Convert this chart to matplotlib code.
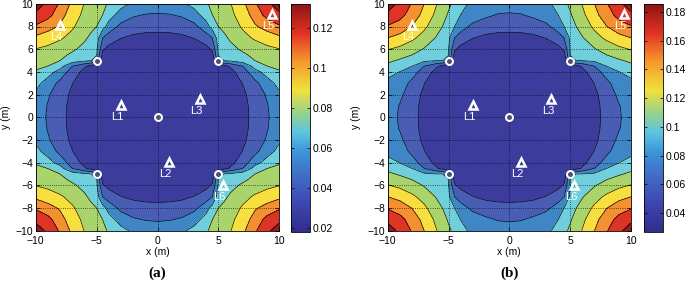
import numpy as np
import matplotlib
matplotlib.use('Agg')
import matplotlib.pyplot as plt
from matplotlib.colors import LinearSegmentedColormap, Normalize
from matplotlib.cm import ScalarMappable
from matplotlib.ticker import FuncFormatter

plt.rcParams['font.family'] = ['Liberation Sans', 'DejaVu Sans']

# |x| and |y| positions (m) where the band index was read, upper-left quadrant
grid_pos = [0, 1, 2, 3, 4, 4.5, 5, 5.5, 6, 7, 8, 9, 10]

# band index (0 = darkest band ... 8 = corner band)
# rows: y = grid_pos, cols: |x| = grid_pos  (x <= 0, y >= 0)
band_index_a = np.array([
    [0.08, 0.08, 0.08, 0.08, 0.08, 0.08, 0.08, 0.08, 0.12, 0.71, 1.29, 1.88, 2.57],
    [0.08, 0.08, 0.08, 0.08, 0.08, 0.08, 0.08, 0.08, 0.12, 0.73, 1.33, 1.94, 2.64],
    [0.08, 0.08, 0.08, 0.08, 0.08, 0.08, 0.08, 0.08, 0.16, 0.81, 1.45, 2.11, 2.85],
    [0.08, 0.08, 0.08, 0.08, 0.08, 0.08, 0.08, 0.08, 0.35, 1.03, 1.72, 2.60, 3.29],
    [0.08, 0.08, 0.08, 0.08, 0.08, 0.08, 0.08, 0.35, 0.73, 1.50, 2.64, 3.38, 3.90],
    [0.08, 0.08, 0.08, 0.08, 0.08, 0.30, 0.26, 0.70, 1.13, 2.00, 3.38, 3.99, 4.21],
    [0.08, 0.08, 0.08, 0.08, 0.08, 0.26, 2.40, 3.10, 3.20, 3.50, 4.00, 4.28, 4.46],
    [0.08, 0.08, 0.08, 0.08, 0.35, 0.70, 3.10, 3.38, 3.42, 3.86, 4.20, 4.50, 4.72],
    [0.12, 0.12, 0.16, 0.35, 0.73, 1.13, 3.20, 3.42, 3.77, 4.13, 4.50, 4.78, 4.97],
    [0.71, 0.73, 0.81, 1.03, 1.50, 2.00, 3.50, 3.86, 4.13, 4.70, 5.13, 5.45, 5.78],
    [1.29, 1.33, 1.45, 1.72, 2.64, 3.38, 4.00, 4.20, 4.50, 5.13, 5.88, 6.40, 6.88],
    [1.88, 1.94, 2.11, 2.60, 3.38, 3.99, 4.28, 4.50, 4.78, 5.45, 6.40, 7.31, 7.75],
    [2.57, 2.64, 2.85, 3.29, 3.90, 4.21, 4.46, 4.72, 4.97, 5.78, 6.88, 7.75, 8.58],
])

band_index_b = np.array([
    [0.08, 0.08, 0.08, 0.08, 0.08, 0.08, 0.08, 0.08, 0.12, 0.71, 1.29, 1.88, 2.45],
    [0.08, 0.08, 0.08, 0.08, 0.08, 0.08, 0.08, 0.08, 0.12, 0.73, 1.33, 1.94, 2.50],
    [0.08, 0.08, 0.08, 0.08, 0.08, 0.08, 0.08, 0.08, 0.16, 0.81, 1.45, 2.20, 2.60],
    [0.08, 0.08, 0.08, 0.08, 0.08, 0.08, 0.08, 0.08, 0.35, 1.03, 1.72, 2.59, 2.71],
    [0.08, 0.08, 0.08, 0.08, 0.08, 0.08, 0.08, 0.35, 0.73, 1.50, 2.48, 2.98, 3.36],
    [0.08, 0.08, 0.08, 0.08, 0.08, 0.30, 0.26, 0.70, 1.13, 2.00, 3.00, 3.42, 3.79],
    [0.08, 0.08, 0.08, 0.08, 0.08, 0.26, 2.40, 3.05, 3.05, 3.19, 3.50, 3.89, 4.17],
    [0.08, 0.08, 0.08, 0.08, 0.35, 0.70, 3.05, 3.25, 3.27, 3.56, 4.00, 4.33, 4.61],
    [0.12, 0.12, 0.16, 0.35, 0.73, 1.13, 3.05, 3.27, 3.67, 3.93, 4.40, 4.77, 5.05],
    [0.71, 0.73, 0.81, 1.03, 1.50, 2.00, 3.19, 3.56, 3.93, 4.63, 5.20, 5.69, 6.00],
    [1.29, 1.33, 1.45, 1.72, 2.48, 3.00, 3.50, 4.00, 4.40, 5.20, 5.98, 6.55, 6.93],
    [1.88, 1.94, 2.20, 2.59, 2.98, 3.42, 3.89, 4.33, 4.77, 5.69, 6.55, 7.31, 7.74],
    [2.45, 2.50, 2.60, 2.71, 3.36, 3.79, 4.17, 4.61, 5.05, 6.00, 6.93, 7.74, 8.58],
])

# contour level values of each panel (band boundaries 0..9)
levels_a = [0.0180, 0.0313, 0.0446, 0.0579, 0.0712, 0.0845, 0.0978, 0.1111, 0.1244, 0.1377]
levels_b = [0.0270, 0.0455, 0.0641, 0.0826, 0.1011, 0.1197, 0.1382, 0.1567, 0.1753, 0.1938]
cbar_range_a = (0.018, 0.132)
cbar_range_b = (0.027, 0.186)
cbar_ticks_a = [0.02, 0.04, 0.06, 0.08, 0.1, 0.12]
cbar_ticks_b = [0.04, 0.06, 0.08, 0.1, 0.12, 0.14, 0.16, 0.18]

band_colors = ['#3b3c9b', '#4a5db5', '#3f86c6', '#6fcfdc', '#a9d46b',
               '#f6df3f', '#f39030', '#de3425', '#98191a']
cbar_pos = [0.0, 0.12, 0.25, 0.35, 0.43, 0.52, 0.62, 0.75, 0.87, 1.0]
cbar_cols = ['#322d8c', '#3c46af', '#416ec8', '#3c96d7', '#5ac3e1',
             '#96d28c', '#f0e13c', '#f5962d', '#e13223', '#8c1414']

anchor_x = [0, -5, 5, -5, 5]
anchor_y = [0, 5, 5, -5, -5]
lm_names = ['L1', 'L2', 'L3', 'L4', 'L5', 'L6']
lm_x = [-3.0, 0.95, 3.45, -8.0, 9.4, 5.35]
lm_y = [1.05, -3.95, 1.6, 8.15, 9.1, -5.95]

g = np.array(grid_pos, dtype=float)
coords = np.concatenate([-g[::-1], g[1:]])
X, Y = np.meshgrid(coords, coords)


def full_field(q):
    # quadrant -> whole square (layout is symmetric about both axes)
    half = np.hstack([q[:, ::-1], q[:, 1:]])
    return np.vstack([half[::-1, :], half[1:, :]])


cmap_bar = LinearSegmentedColormap.from_list('mutedjet', list(zip(cbar_pos, cbar_cols)))

W, H = 685, 285
fig = plt.figure(figsize=(W / 100, H / 100), dpi=100)


def box(l, t, r, b):
    return [l / W, 1 - b / H, (r - l) / W, (b - t) / H]


def panel(ax, cax, quad, levels, crange, cticks):
    U = full_field(quad)
    Z = np.interp(U, np.arange(len(levels)), levels)
    ax.contourf(X, Y, Z, levels=levels, colors=band_colors)
    ax.contour(X, Y, Z, levels=levels[1:-1], colors='k', linewidths=0.45)
    ax.set_xlim(-10, 10)
    ax.set_ylim(-10, 10)
    ax.set_xticks([-10, -5, 0, 5, 10])
    ax.set_yticks(np.arange(-10, 11, 2))
    ax.set_axisbelow(False)
    ax.grid(True, linestyle=':', color='k', linewidth=0.6, alpha=0.8)
    ax.tick_params(direction='in', length=3, width=0.5, labelsize=7.5,
                   top=True, right=True, pad=2)
    ax.tick_params(axis='x', pad=3.5)
    for s in ax.spines.values():
        s.set_linewidth(0.6)
    ax.plot(anchor_x, anchor_y, 'o', ms=5, mfc='#505070', mec='white', mew=1.4, zorder=5)
    ax.plot(lm_x, lm_y, '^', ms=6, mfc='none', mec='white', mew=1.8, zorder=5)
    for n, x, y in zip(lm_names, lm_x, lm_y):
        ax.annotate(n, (x, y), xytext=(-2.5, -8.5), textcoords='offset points',
                    ha='center', va='center', color='white', fontsize=8, zorder=6)
    sm = ScalarMappable(norm=Normalize(*crange), cmap=cmap_bar)
    cb = fig.colorbar(sm, cax=cax, ticks=cticks)
    cb.ax.yaxis.set_major_formatter(FuncFormatter(lambda v, p: '%g' % v))
    cb.ax.tick_params(direction='in', length=2.5, width=0.5, labelsize=7.5,
                      left=True, right=True, pad=2)
    cb.outline.set_linewidth(0.6)


ax_a = fig.add_axes(box(35.7, 3.8, 279.3, 230.8))
cax_a = fig.add_axes(box(291, 3.5, 309.5, 231.5))
ax_b = fig.add_axes(box(387.7, 3.8, 631, 230.8))
cax_b = fig.add_axes(box(644, 3.5, 662.5, 231.5))

panel(ax_a, cax_a, band_index_a, levels_a, cbar_range_a, cbar_ticks_a)
panel(ax_b, cax_b, band_index_b, levels_b, cbar_range_b, cbar_ticks_b)

for cx, lbl in [(157.5, '(a)'), (509.3, '(b)')]:
    fig.text(cx / W, 1 - 252 / H, 'x (m)', ha='center', va='center', fontsize=7.5)
    fig.text(cx / W, 1 - 273 / H, lbl, ha='center', va='center', fontsize=11,
             family='Liberation Serif', weight='bold')
fig.text(6 / W, 1 - 117 / H, 'y (m)', rotation=90, ha='center', va='center', fontsize=7.5)
fig.text(356 / W, 1 - 117 / H, 'y (m)', rotation=90, ha='center', va='center', fontsize=7.5)

fig.savefig('out.png', dpi=100)
